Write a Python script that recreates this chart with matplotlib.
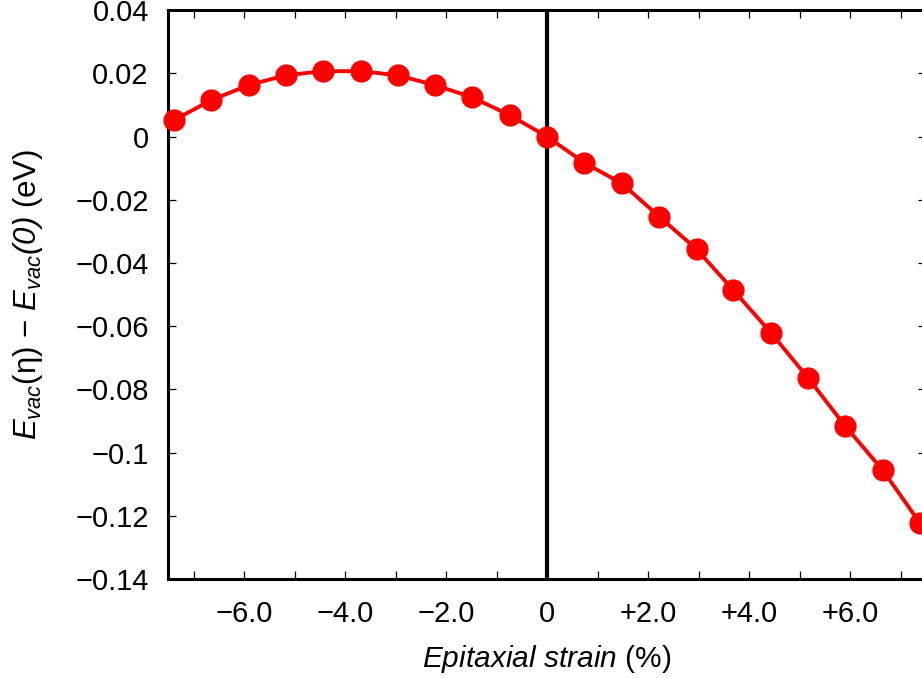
import numpy as np
import matplotlib
matplotlib.use('Agg')
import matplotlib.pyplot as plt
from matplotlib.ticker import FixedLocator, FixedFormatter

plt.rcParams['font.family'] = ['Liberation Sans', 'DejaVu Sans']
plt.rcParams['mathtext.fontset'] = 'custom'
plt.rcParams['mathtext.rm'] = 'Liberation Sans'
plt.rcParams['mathtext.it'] = 'Liberation Sans:italic'
# \mathsf 用作斜体数字和括号（mathtext.it 会把非字母字符换回正体）
plt.rcParams['mathtext.sf'] = 'Liberation Sans:italic'

# 外延应变 (%) 与空位形成能相对变化 (eV)
strain = [-7.39, -6.65, -5.91, -5.17, -4.43, -3.69, -2.96, -2.22, -1.48, -0.74, 0.0,
          0.74, 1.48, 2.22, 2.96, 3.69, 4.43, 5.17, 5.91, 6.65, 7.39]
dE_vac = [0.0052, 0.0115, 0.0163, 0.0194, 0.0207, 0.0207, 0.0194, 0.0163, 0.0124, 0.0068, 0.0,
          -0.0083, -0.0148, -0.0253, -0.0356, -0.0486, -0.0620, -0.0764, -0.0917, -0.1056, -0.1224]

MINUS = '\u2212'
xtick_pos = [-7, -6, -5, -4, -3, -2, -1, 0, 1, 2, 3, 4, 5, 6, 7]
xtick_lbl = ['', MINUS + '6.0', '', MINUS + '4.0', '', MINUS + '2.0', '', '0',
             '', '+2.0', '', '+4.0', '', '+6.0', '']
ytick_pos = [0.04, 0.02, 0.0, -0.02, -0.04, -0.06, -0.08, -0.10, -0.12, -0.14]
ytick_lbl = ['0.04', '0.02', '0', MINUS + '0.02', MINUS + '0.04', MINUS + '0.06',
             MINUS + '0.08', MINUS + '0.1', MINUS + '0.12', MINUS + '0.14']

fig = plt.figure(figsize=(9.22, 6.78), dpi=100)
ax = fig.add_axes([0.1825, 0.146, 0.8216, 0.839])

ax.axvline(0, color='black', lw=3.0, zorder=2)
ax.plot(strain, dE_vac, '-o', color='#ff0000', lw=2.8, ms=15, zorder=3, clip_on=False)

ax.set_xlim(-7.5, 7.5)
ax.set_ylim(-0.14, 0.04)
ax.xaxis.set_major_locator(FixedLocator(xtick_pos))
ax.xaxis.set_major_formatter(FixedFormatter(xtick_lbl))
ax.yaxis.set_major_locator(FixedLocator(ytick_pos))
ax.yaxis.set_major_formatter(FixedFormatter(ytick_lbl))
ax.tick_params(direction='in', length=6, width=0.9, labelsize=21,
               top=True, right=True)
ax.tick_params(axis='x', pad=15)
ax.tick_params(axis='y', pad=14)
for sp in ax.spines.values():
    sp.set_linewidth(2.2)

ax.set_xlabel(r'$\mathit{Epitaxial\ strain}$ (%)', fontsize=21.5, labelpad=11)
ax.set_ylabel(r'$E_{vac}$(η) ' + MINUS + r' $E_{vac}\mathsf{(0)}$ (eV)',
              fontsize=22.5, labelpad=22)

fig.savefig('out.png', dpi=100)
